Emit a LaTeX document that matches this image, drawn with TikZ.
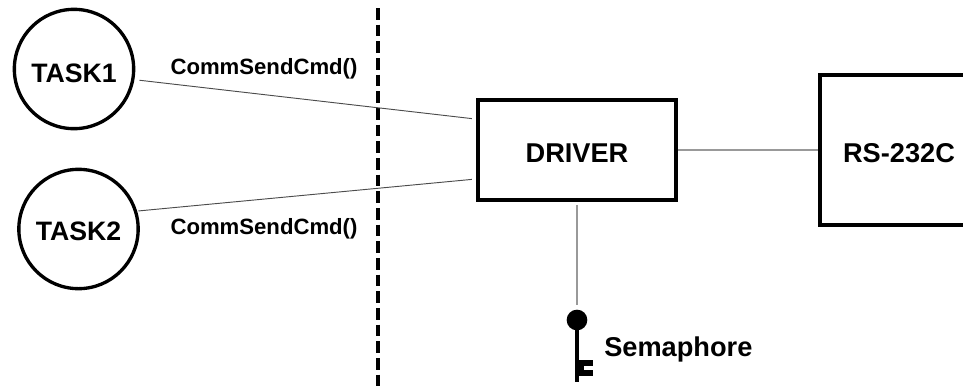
\documentclass[tikz,border=0pt]{standalone}
\usepackage{fontspec}
\setmainfont{Liberation Sans}
\usetikzlibrary{calc}
\tikzset{
  nodetext/.style={font=\fontsize{20.4pt}{24pt}\bfseries},
  tasknode/.style n args={2}{
    circle,
    line width=2.5pt,
    minimum size=89.5pt,
    inner sep=0pt,
    draw=black,
    label={[nodetext, font=\fontsize{20pt}{24pt}\bfseries, yshift=#2]center:#1},
  },
  boxnode/.style n args={3}{
    rectangle,
    line width=2.8pt,
    minimum width=#1,
    minimum height=#2,
    inner sep=0pt,
    draw=black,
    label={[nodetext, yshift=-2.5pt]center:#3},
  },
  calltext/.style={font=\fontsize{16.6pt}{20pt}\bfseries},
  thinwire/.style={line width=0.7pt, draw=black!70},
  greywire/.style={line width=1.1pt, draw=black!40},
  keyline/.style={line width=3pt, draw=black},
}

\begin{document}
\begin{tikzpicture}[x=0.75pt, y=-0.75pt]
    \useasboundingbox (0,0) rectangle (963,386);
    \clip (0,0) rectangle (963,386);

    \node[tasknode={TASK1}{-3pt}] (task1) at (74,69) {};
    \node[tasknode={TASK2}{-2pt}] (task2) at (78.5,229) {};
    \node[boxnode={149pt}{75.4pt}{DRIVER}] (driver) at (577,150) {};
    \node[boxnode={118.5pt}{112pt}{RS-232C}, right of=driver, node distance=241.5pt] (rs232) {};

    %% Call labels
    \node[calltext] (call1) at (264,69) {CommSendCmd()};
    \node[calltext] (call2) at (264,229) {CommSendCmd()};

    %% Boundary
    \coordinate (bordertop) at (378,8);
    \coordinate (borderbot) at (378,386);
    \draw[line width=2.8pt, dash pattern=on 8.7pt off 3.8pt] (bordertop) -- (borderbot);

    %% Semaphore key
    \node[circle, fill=black, minimum size=15.5pt, inner sep=0pt] (keyhead) at (577,320) {};
    \node[nodetext, right of=keyhead, node distance=76pt, yshift=-22pt] (semlabel) {Semaphore};
    \coordinate (keyend) at (577,382);
    \coordinate (toothtop) at (577,363);
    \coordinate (toothbot) at (577,373);
    \draw[keyline] (keyhead.center) -- (keyend);
    \draw[line width=4.5pt] (toothtop) -- ++(16,0);
    \draw[line width=4.5pt] (toothbot) -- ++(16,0);
    \draw[line width=4pt] ($(toothtop)!.5!(toothbot)$) -- ++(7,0);

    %% Remaining edges
    \draw[thinwire, shorten <=3.7pt, shorten >=3pt] (task1.-10) -- (driver.163);
    \draw[thinwire, shorten <=1pt, shorten >=3pt] (task2.17) -- (driver.196);
    \draw[greywire] (driver.east |- rs232.west) -- (rs232.west);
    \draw[greywire, shorten <=2pt, shorten >=3.5pt] (driver.south) -- (keyhead);
\end{tikzpicture}
\end{document}
